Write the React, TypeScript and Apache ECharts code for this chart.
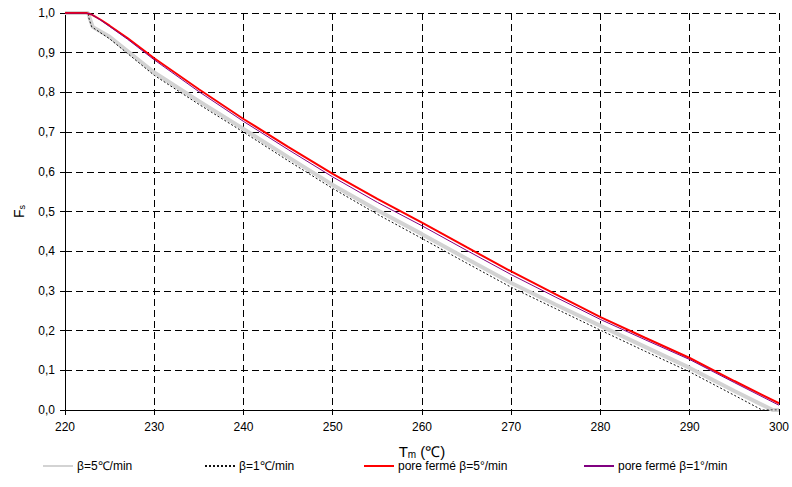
import React, { useEffect, useRef } from "react";
import * as echarts from "echarts";

const seriesNames = ["β=5℃/min", "β=1℃/min", "pore fermé β=5°/min", "pore fermé β=1°/min"];

const grayT = [220, 222.6, 222.8, 223.1, 225, 230, 235, 240, 245, 250, 255, 260, 265, 270, 275, 280, 285, 290, 295, 299.3, 300];
const grayF = [1, 1, 0.985, 0.965, 0.94, 0.85, 0.778, 0.708, 0.637, 0.567, 0.503, 0.443, 0.381, 0.32, 0.265, 0.212, 0.159, 0.106, 0.048, 0, 0];

const blackT = [220, 222.6, 222.7, 223, 225, 230, 235, 240, 245, 250, 255, 260, 265, 270, 275, 280, 285, 290, 295, 298.1, 300];
const blackF = [1, 1, 0.985, 0.965, 0.935, 0.843, 0.77, 0.7, 0.628, 0.558, 0.493, 0.432, 0.37, 0.309, 0.255, 0.201, 0.148, 0.096, 0.037, 0, 0];

const redT = [220, 222.4, 223, 224, 225, 227, 230, 235, 240, 245, 250, 255, 260, 265, 270, 275, 280, 285, 290, 295, 300];
const redF = [1, 1, 0.996, 0.983, 0.968, 0.937, 0.886, 0.808, 0.733, 0.663, 0.595, 0.532, 0.472, 0.41, 0.349, 0.291, 0.234, 0.182, 0.131, 0.073, 0.017];

const purpleT = [220, 222.4, 223, 224, 225, 227, 230, 235, 240, 245, 250, 255, 260, 265, 270, 275, 280, 285, 290, 295, 300];
const purpleF = [1, 1, 0.996, 0.982, 0.966, 0.934, 0.882, 0.802, 0.727, 0.656, 0.587, 0.523, 0.464, 0.402, 0.341, 0.284, 0.228, 0.177, 0.127, 0.069, 0.012];

const legendLefts = [42, 204, 363, 583];

const pairs = (xs: number[], ys: number[]) => xs.map((x, i) => [x, ys[i]]);

const FONT = "'Liberation Sans', Arial, sans-serif";

export default function App() {
  const ref = useRef<HTMLDivElement>(null);
  useEffect(() => {
    document.body.style.margin = "0";
    const chart = echarts.init(ref.current!, null, { renderer: "svg" });
    const gridDash = { color: "#000", width: 1, type: [7, 4] as any };
    const legends = seriesNames.map((n, i) => ({
      data: [{ name: n, itemStyle: { opacity: 0 } }],
      left: legendLefts[i],
      top: 460,
      padding: 0,
      itemWidth: 30,
      itemHeight: 10,
      itemGap: 0,
      textStyle: { fontFamily: FONT, fontSize: 12, color: "#000", padding: [0, 0, 0, -1] },
      selectedMode: false,
    }));
    chart.setOption({
      animation: false,
      backgroundColor: "#fff",
      textStyle: { fontFamily: FONT },
      grid: { left: 65, right: 13, top: 13, bottom: 77, containLabel: false },
      legend: legends,
      xAxis: {
        type: "value",
        min: 220,
        max: 300,
        interval: 10,
        name: "{a|T}{b|m}{a| (℃)}",
        nameLocation: "middle",
        nameGap: 30,
        nameTextStyle: {
          rich: {
            a: { fontFamily: FONT, fontSize: 15, color: "#000", verticalAlign: "bottom", lineHeight: 19 },
            b: { fontFamily: FONT, fontSize: 10, color: "#000", verticalAlign: "bottom", lineHeight: 14 },
          },
        },
        axisLine: { show: true, lineStyle: { color: "#000", width: 1 } },
        axisTick: { show: true, inside: false, length: 5, lineStyle: { color: "#000" } },
        axisLabel: { fontFamily: FONT, fontSize: 12, color: "#000", margin: 11 },
        splitLine: { show: true, lineStyle: gridDash },
      },
      yAxis: {
        type: "value",
        min: 0,
        max: 1,
        interval: 0.1,
        name: "{a|F}{b|s}",
        nameLocation: "middle",
        nameRotate: 90,
        nameGap: 39,
        nameTextStyle: {
          rich: {
            a: { fontFamily: FONT, fontSize: 14, color: "#000", verticalAlign: "bottom", lineHeight: 18 },
            b: { fontFamily: FONT, fontSize: 9, color: "#000", verticalAlign: "bottom", lineHeight: 13 },
          },
        },
        axisLine: { show: true, lineStyle: { color: "#000", width: 1 } },
        axisTick: { show: true, inside: false, length: 5, lineStyle: { color: "#000" } },
        axisLabel: {
          fontFamily: FONT,
          fontSize: 12,
          color: "#000",
          margin: 10,
          formatter: (v: number) => v.toFixed(1).replace(".", ","),
        },
        splitLine: { show: true, lineStyle: gridDash },
      },
      series: [
        {
          name: seriesNames[0],
          type: "line",
          data: pairs(grayT, grayF),
          symbol: "none",
          color: "#d3d3d3",
          lineStyle: { color: "#d3d3d3", width: 4 },
        },
        {
          name: seriesNames[1],
          type: "line",
          data: pairs(blackT, blackF),
          symbol: "none",
          color: "#000",
          lineStyle: { color: "#111", width: 1, type: [2, 2] as any },
        },
        {
          name: seriesNames[2],
          type: "line",
          data: pairs(redT, redF),
          symbol: "none",
          color: "#ff0000",
          lineStyle: { color: "#ff0000", width: 2 },
        },
        {
          name: seriesNames[3],
          type: "line",
          data: pairs(purpleT, purpleF),
          symbol: "none",
          color: "#800080",
          lineStyle: { color: "#800080", width: 1 },
        },
      ],
    });
    return () => chart.dispose();
  }, []);
  return <div ref={ref} style={{ width: 792, height: 487 }} />;
}
